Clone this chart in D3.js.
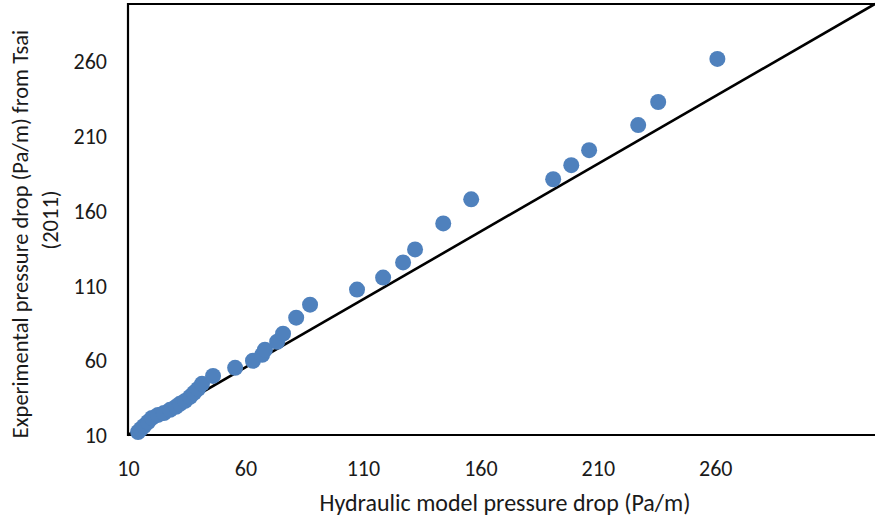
<!DOCTYPE html>
<html>
<head>
<meta charset="utf-8">
<script src="https://cdn.jsdelivr.net/npm/d3@7/dist/d3.min.js"></script>
<style>
  html, body { margin: 0; padding: 0; background: #fff; }
  svg { display: block; }
  text { font-family: Carlito, Lato, "Open Sans", sans-serif; fill: #1a1a1a; }
</style>
</head>
<body>
<svg id="chart" width="875" height="520"></svg>
<script>
// Hydraulic model pressure drop (Pa/m)
const modelX = [14.3, 15.5, 16.8, 18.5, 20.2, 22.8, 25.3, 27.9, 30.4, 32.1, 34.3, 36.4, 38.1, 39.8, 41.5,
  46.2, 55.6, 63.2, 67.1, 68.3, 73.5, 76.0, 81.6, 87.5, 107.5, 118.6, 127.1, 132.2, 144.2, 156.1,
  191.0, 198.7, 206.3, 227.2, 235.7, 260.9];
// Experimental pressure drop (Pa/m) from Tsai (2011)
const experimentY = [12.0, 14.0, 16.0, 18.7, 21.4, 23.4, 24.7, 26.8, 28.8, 30.8, 32.8, 35.5, 38.2, 40.8, 44.2,
  49.5, 54.9, 59.6, 63.6, 67.0, 72.3, 77.7, 88.4, 97.1, 107.2, 115.2, 125.3, 134.0, 151.4, 167.5,
  180.9, 190.3, 200.3, 217.1, 232.5, 261.3];
const tickValues = [10, 60, 110, 160, 210, 260];
const xDomain = [10, 328];
const yDomain = [10, 298];
// reference line drawn corner to corner
const refLineX = [10, 328];
const refLineY = [10, 298];

const svg = d3.select("#chart");
const pLeft = 128, pRight = 875, pTop = 4, pBottom = 435;
const FONT = "Carlito, Lato, 'Open Sans', sans-serif";
const TICK_FS = 22, TITLE_FS = 22.5, XTITLE_FS = 24;

const x = d3.scaleLinear().domain(xDomain).range([pLeft, pRight]);
const y = d3.scaleLinear().domain(yDomain).range([pBottom, pTop]);

// plot frame (top + left + bottom)
svg.append("path")
  .attr("d", `M${pRight + 2},${pTop} H${pLeft} V${pBottom} H${pRight + 2}`)
  .attr("fill", "none").attr("stroke", "#000").attr("stroke-width", 2.2);

const xAxis = svg.append("g").attr("transform", `translate(0,${pBottom})`)
  .call(d3.axisBottom(x).tickValues(tickValues).tickSize(0).tickPadding(0).tickFormat(d3.format("d")));
xAxis.select(".domain").remove();
xAxis.selectAll("text").attr("y", 41).attr("dy", null).attr("font-size", TICK_FS).attr("fill", "#1a1a1a")
  .style("font-family", FONT);

const yAxis = svg.append("g").attr("transform", `translate(${pLeft},0)`)
  .call(d3.axisLeft(y).tickValues(tickValues).tickSize(0).tickPadding(0).tickFormat(d3.format("d")));
yAxis.select(".domain").remove();
yAxis.selectAll("text").attr("x", -21).attr("dy", "0.35em").attr("font-size", TICK_FS).attr("fill", "#1a1a1a")
  .style("font-family", FONT);

// reference line
const lineData = refLineX.map((v, i) => [v, refLineY[i]]);
svg.append("path")
  .datum(lineData)
  .attr("d", d3.line().x(d => x(d[0])).y(d => y(d[1])))
  .attr("stroke", "#000").attr("stroke-width", 2.6).attr("fill", "none");

// points
const pts = modelX.map((v, i) => ({ x: v, y: experimentY[i] }));
svg.append("g").selectAll("circle").data(pts).join("circle")
  .attr("cx", d => x(d.x)).attr("cy", d => y(d.y)).attr("r", 8)
  .attr("fill", "#4F81BD");

// axis titles
svg.append("text").attr("x", 505).attr("y", 511).attr("text-anchor", "middle")
  .attr("font-size", XTITLE_FS).text("Hydraulic model pressure drop (Pa/m)");

svg.append("text").attr("transform", "translate(20,234) rotate(-90)")
  .attr("text-anchor", "middle").attr("dominant-baseline", "central")
  .attr("font-size", TITLE_FS).text("Experimental pressure drop (Pa/m) from Tsai");
svg.append("text").attr("transform", "translate(50,220) rotate(-90)")
  .attr("text-anchor", "middle").attr("dominant-baseline", "central")
  .attr("font-size", TITLE_FS).text("(2011)");
</script>
</body>
</html>
